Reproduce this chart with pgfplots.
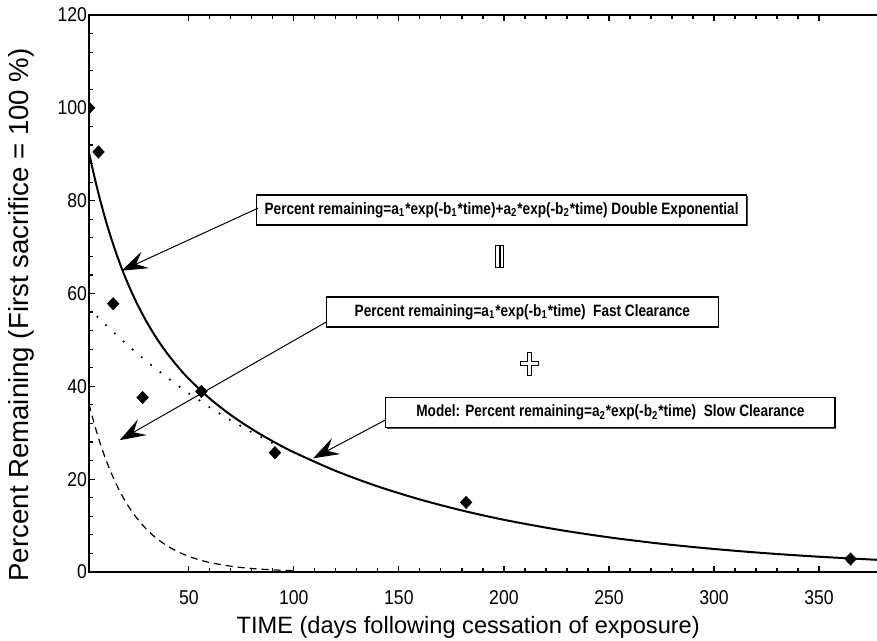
\documentclass[border=0pt]{standalone}
\usepackage{fontspec}
\setmainfont{Liberation Sans}
\newfontfamily\notefont[FakeStretch=0.83]{Liberation Sans}
\newfontfamily\tickfont[FakeStretch=0.88]{Liberation Sans}
\usepackage{pgfplots}
\usepackage{pgfplotstable}
\pgfplotsset{compat=1.18}
\usetikzlibrary{arrows.meta,shadows}

% measured retention (percent of first sacrifice)
\pgfplotstableread{
t y
2.5 100
7 90.5
14 57.8
28 37.6
56 38.9
91 25.7
182 15.0
365 2.8
}\measured

% fitted double exponential
\pgfplotstableread{
t y
2.5 90.36
4 87.24
6 83.37
8 79.79
10 76.48
12 73.41
15 69.24
18 65.49
21 62.13
25 58.14
30 53.83
35 50.13
40 46.92
45 44.11
50 41.61
60 37.35
70 33.82
80 30.80
90 28.15
100 25.80
120 21.77
140 18.43
160 15.63
180 13.26
200 11.25
225 9.17
250 7.47
275 6.08
300 4.96
325 4.04
350 3.29
380 2.57
}\double

% slow clearance component
\pgfplotstableread{
t y
2.5 56.82
5 55.67
8 54.32
12 52.56
16 50.87
20 49.23
25 47.25
30 45.35
35 43.53
40 41.78
45 40.10
50 38.49
60 35.46
70 32.67
80 30.10
90 27.73
}\slow

% fast clearance component
\pgfplotstableread{
t y
2.5 36.18
4 33.57
6 30.37
8 27.48
10 24.87
12 22.50
15 19.37
18 16.67
21 14.35
25 11.75
30 9.15
35 7.12
40 5.55
45 4.32
50 3.37
55 2.62
60 2.04
70 1.24
80 0.75
90 0.46
100 0.28
}\fast

\begin{document}
\begin{tikzpicture}[
  note/.style={draw=black, line width=0.6pt, fill=white, inner sep=0pt,
    minimum height=15pt, font=\notefont\bfseries\fontsize{8.2}{10}\selectfont,
    drop shadow={shadow xshift=0.6pt, shadow yshift=-0.6pt, fill=black!70, opacity=1}},
  pointer/.style={line width=0.5pt, -{Stealth[length=13pt,width=9pt,inset=5pt]}}
]
\begin{axis}[
  x=1.05pt, y=2.32pt,
  xmin=2.5, xmax=380, ymin=0, ymax=120,
  xtick={50,100,...,350}, ytick={0,20,...,120},
  minor x tick num=4, minor y tick num=4,
  tick align=inside,
  xtick pos=both, ytick pos=left,
  xticklabel pos=lower, yticklabel pos=left,
  major tick length=3pt, minor tick length=1.8pt,
  tick style={black, line width=0.6pt},
  axis line style={line width=0.9pt},
  ticklabel style={font=\tickfont\fontsize{10}{11}\selectfont},
  xticklabel style={yshift=-5.5pt},
  yticklabel style={xshift=2.5pt},
  /pgf/number format/assume math mode=true,
  clip marker paths=true,
]
\addplot[black, line width=0.6pt, dash pattern=on 3.5pt off 2.5pt, smooth] table {\fast};
\addplot[black, line width=1.2pt, line cap=round, dash pattern=on 0pt off 6pt] table {\slow};
\addplot[black, line width=1pt, smooth] table {\double};
\addplot[only marks, mark=diamond*, mark size=3pt,
  mark options={fill=black, draw=black, xscale=1.25}] table {\measured};

\coordinate (bl) at (axis cs:2.5,0);
\coordinate (tr) at (axis cs:377.6,120);
\coordinate (xl) at (axis cs:183,0);
\coordinate (yl) at (axis cs:2.5,55.4);
\coordinate (eq) at (axis cs:198,68.1);
\coordinate (pl) at (axis cs:212,44.9);

\node[note, minimum width=245pt] at (axis cs:198.9,78.0)
  {Percent remaining=a\textsubscript{1}*exp(-b\textsubscript{1}*time)+a\textsubscript{2}*exp(-b\textsubscript{2}*time) Double Exponential};
\node[note, minimum width=195.8pt] at (axis cs:208.8,56.0)
  {Percent remaining=a\textsubscript{1}*exp(-b\textsubscript{1}*time)\ \ Fast Clearance};
\node[note, minimum width=224.5pt] at (axis cs:250.7,34.3)
  {Model: Percent remaining=a\textsubscript{2}*exp(-b\textsubscript{2}*time)\ \ Slow Clearance};

\draw[pointer] (axis cs:83.0,78.4) -- (axis cs:17.95,64.9);
\draw[pointer] (axis cs:115.6,53.9) -- (axis cs:17.1,28.4);
\draw[pointer] (axis cs:143.8,32.8) -- (axis cs:109.2,24.5);
\end{axis}

% axis titles
\node[anchor=base, font=\fontsize{11.8}{13}\selectfont, yshift=-30.5pt] at (xl)
  {TIME (days following cessation of exposure)};
\node[xshift=-30.5pt, rotate=90, anchor=base, font=\fontsize{13.8}{15}\selectfont] at (yl)
  {Percent Remaining (First sacrifice = 100 \%)};

% "equals" sign between the full model and its two parts
\begin{scope}[shift={(eq)}, line width=0.4pt]
  \draw (-2.0pt,-5.5pt) rectangle (-0.35pt,5.5pt);
  \draw (0.35pt,-5.5pt) rectangle (2.0pt,5.5pt);
\end{scope}
% "plus" sign
\begin{scope}[shift={(pl)}, line width=0.4pt]
  \draw (-1pt,5.75pt) -- (1pt,5.75pt) -- (1pt,1pt) -- (4.5pt,1pt) -- (4.5pt,-1pt)
    -- (1pt,-1pt) -- (1pt,-5.75pt) -- (-1pt,-5.75pt) -- (-1pt,-1pt) -- (-4.5pt,-1pt)
    -- (-4.5pt,1pt) -- (-1pt,1pt) -- cycle;
\end{scope}

\pgfresetboundingbox
\path ([xshift=-44.5pt,yshift=-34pt]bl) rectangle ([yshift=7.5pt]tr);
\end{tikzpicture}
\end{document}
